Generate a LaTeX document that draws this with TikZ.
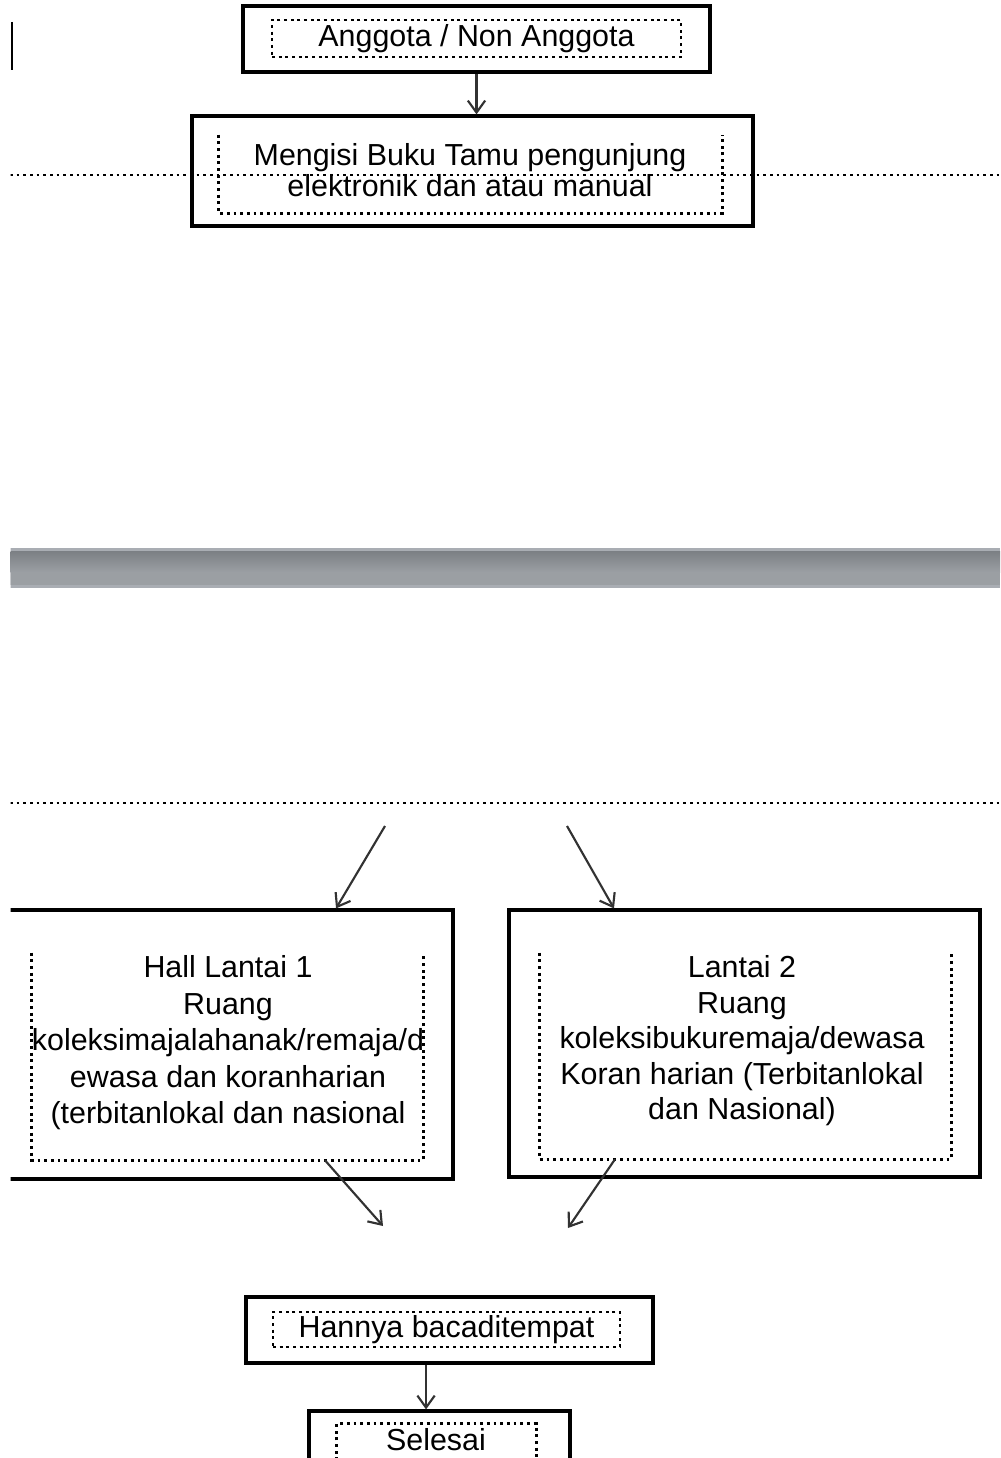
\documentclass[tikz,border=0pt]{standalone}
\usepackage{fontspec}
\setmainfont{Liberation Sans}
\usetikzlibrary{arrows.meta}
\definecolor{bandtepi}{RGB}{169,173,179}
\definecolor{bandgelap}{RGB}{123,127,132}
\definecolor{bandterang}{RGB}{155,159,163}
\definecolor{panahabu}{RGB}{50,50,50}

\begin{document}
\begin{tikzpicture}[x=0.75pt,y=0.75pt,yscale=-1,xscale=1,
  kotak/.style={draw, line width=2.4pt, inner sep=0pt},
  teks/.style={align=center, inner sep=0pt, font=\fontsize{22.8}{27.4}\selectfont},
  bingkai/.style={draw, line width=2.2pt, dash pattern=on 2.2pt off 2.8pt, inner sep=0pt},
  titik/.style={line width=2.2pt, dash pattern=on 2.2pt off 2.8pt},
  garis/.style={line width=1.9pt, dash pattern=on 1.9pt off 3.1pt},
  panah/.style={draw=panahabu, line width=1.6pt, -{Straight Barb[length=9pt,width=13pt]}}]
\useasboundingbox (0,0) rectangle (1000,1458);
\clip (10.5,0) rectangle (1000,1458);

%Straight Lines
\draw [line width=1.5pt] (12,22) -- (12,70) ;
\draw [garis] (10,803) -- (1000,803) ;

%Shape: Band
\fill [bandtepi] (10,548) rectangle (1000,588) ;
\shade [top color=bandgelap, bottom color=bandterang] (10,551) rectangle (1000,572) ;
\fill [bandterang] (10,572) rectangle (1000,585) ;

%Shape: Boxes
\node [kotak, minimum width=350.25pt, minimum height=49.5pt] (A) at (476.5,39) {};
\node [kotak, minimum width=420.75pt, minimum height=82.5pt, fill=white] (B) at (472.5,171) {};
\node [kotak, minimum width=362.25pt, minimum height=201.75pt] (C) at (211.5,1044.5) {};
\node [kotak, minimum width=353.25pt, minimum height=200.25pt] (D) at (744.5,1043.5) {};
\node [kotak, minimum width=305.25pt, minimum height=49.5pt] (E) at (449.5,1330) {};
\node [kotak, minimum width=195.75pt, minimum height=81.75pt] (F) at (439.5,1465.5) {};

%Shape: Dotted frames
\node [minimum width=377.25pt, minimum height=58.5pt, inner sep=0pt] (fB) at (470.5,174) {};
\node [minimum width=293.25pt, minimum height=155.25pt, inner sep=0pt] (fC) at (227.5,1056.5) {};
\node [minimum width=308.25pt, minimum height=154.5pt, inner sep=0pt] (fD) at (745.5,1056) {};
\node [minimum width=149.25pt, minimum height=57pt, inner sep=0pt] (fF) at (436.5,1462) {};
\draw [titik] (fB.north west) -- (fB.south west) -- (fB.south east) -- (fB.north east) ;
\draw [titik] (fC.north west) -- (fC.south west) -- (fC.south east) -- (fC.north east) ;
\draw [titik] (fD.north west) -- (fD.south west) -- (fD.south east) -- (fD.north east) ;
\draw [titik] (fF.south west) -- (fF.north west) -- (fF.north east) -- (fF.south east) ;
\draw [garis] (10,175) -- (1000,175) ;

% Text Node
\node [teks, bingkai, minimum width=306.75pt, minimum height=27.75pt] (tA) at (476.5,38.5) {Anggota / Non Anggota};
% Text Node
\node [teks, font=\fontsize{22.8}{23.3}\selectfont] (tB) at (470,170.5) {Mengisi Buku Tamu pengunjung\\elektronik dan atau manual};
% Text Node
\node [teks] (tC) at (228,1043) {Hall Lantai 1\\Ruang\\koleksimajalahanak/remaja/d\\ewasa dan koranharian\\(terbitanlokal dan nasional};
% Text Node
\node [teks, font=\fontsize{22.8}{26.6}\selectfont] (tD) at (742,1041) {Lantai 2\\Ruang\\koleksibukuremaja/dewasa\\Koran harian (Terbitanlokal\\dan Nasional)};
% Text Node
\node [teks, bingkai, minimum width=260.25pt, minimum height=26.25pt] (tE) at (446.5,1329.5) {Hannya bacaditempat};
% Text Node
\node [teks] (tF) at (436,1440) {Selesai};

%Arrows
\coordinate (masukC) at (385,826);
\coordinate (masukD) at (567,826);
\coordinate (keluarC) at (383,1226);
\coordinate (keluarD) at (568,1228);
\draw [panah] (A.south) -- (A.south |- B.north) ;
\draw [panah] (masukC) -- ([xshift=93.4pt]C.north) ;
\draw [panah] (masukD) -- ([xshift=-97.9pt]D.north) ;
\draw [panah] ([xshift=73.1pt]fC.south) -- (keluarC) ;
\draw [panah] ([xshift=-97.9pt]fD.south) -- (keluarD) ;
\draw [panah] ([xshift=-17.6pt]E.south) -- ([xshift=-17.6pt]E.south |- F.north) ;

\end{tikzpicture}
\end{document}
